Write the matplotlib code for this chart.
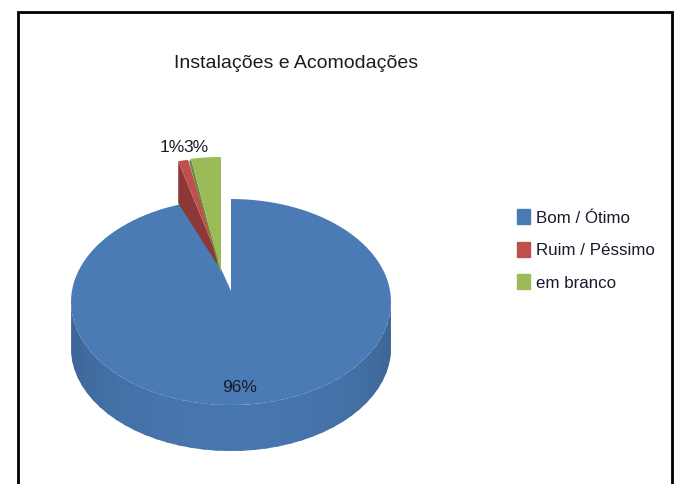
import numpy as np
import matplotlib
matplotlib.use('Agg')
from matplotlib import pyplot as plt
from matplotlib.patches import Polygon, Rectangle

categories = ['Bom / Ótimo', 'Ruim / Péssimo', 'em branco']
values = [96, 1, 3]
top_colors = ['#4a7bb5', '#c0504d', '#9bbb59']
wall_colors = ['#3f6a9c', '#8c3836', '#6f8a3f']
title = 'Instalações e Acomodações'

sans = ['Liberation Sans', 'DejaVu Sans']

# pie geometry, in pixels of the 683x484 picture
cx, cy, rx, ry = 231, 302, 160, 103
apex_y = 291
depth = 46
arc_shift = [(0, 0), (-13, -41), (-10, -42)]
apex_pos = [(231, apex_y), (218, 258), (221, 272)]


def arc(t0, t1, n=120):
    t = np.radians(np.linspace(t0, t1, n))
    return np.column_stack([cx + rx * np.sin(t), cy - ry * np.cos(t)])


fig = plt.figure(figsize=(6.83, 4.84), dpi=100)
ax = fig.add_axes([0, 0, 1, 1])
ax.set_xlim(0, 683)
ax.set_ylim(484, 0)
ax.axis('off')

# frame has no bottom edge, the picture is cut there
ax.plot([18, 18, 672, 672], [484, 12, 12, 484], color='black', lw=2, solid_joinstyle='miter')

angles = np.cumsum([0] + values) * 3.6

# blue outer wall, shaded in strips
edges = np.linspace(90, 270, 41)
base = np.array(matplotlib.colors.to_rgb(top_colors[0]))
for a, b in zip(edges[:-1], edges[1:]):
    p = arc(a, b + 1.5, 6)
    shade = 0.8 + 0.16 * np.sin(np.radians((a + b) / 2 - 90))
    ax.add_patch(Polygon(np.vstack([p, (p + [0, depth])[::-1]]), color=base * shade, lw=0))

for i in range(3):
    pts = arc(angles[i], angles[i + 1]) + arc_shift[i]
    apex = np.array(apex_pos[i], dtype=float)
    if i > 0:
        # inner cut face of the pulled out slices
        start = pts[0]
        drop = 42 if i == 1 else 3
        wall = [start, start + [-2 if i == 2 else 0, drop], apex + [-1, 6 if i == 1 else 0], apex]
        ax.add_patch(Polygon(wall, color=wall_colors[i], lw=0))
    ax.add_patch(Polygon(np.vstack([apex, pts]), color=top_colors[i], lw=0))

label_pos = [(240, 387), (172, 148), (196, 147)]
for v, (x, y) in zip(values, label_pos):
    ax.text(x, y, f'{v}%', ha='center', va='center', fontsize=12.5, family=sans, color='#1a1a2a')

ax.text(296, 64, title, ha='center', va='center', fontsize=14, family=sans, color='#1c1c1c')

handles = [Rectangle((0, 0), 1, 1, color=c) for c in top_colors]
ax.legend(handles, categories, loc='center left', bbox_to_anchor=(502 / 683, 1 - 250 / 484),
          frameon=False, prop={'family': sans, 'size': 12.2}, handlelength=0.75, handleheight=1.0,
          handletextpad=0.35, labelspacing=0.95, labelcolor='#1a1a2a')

fig.savefig('out.png', dpi=100)
